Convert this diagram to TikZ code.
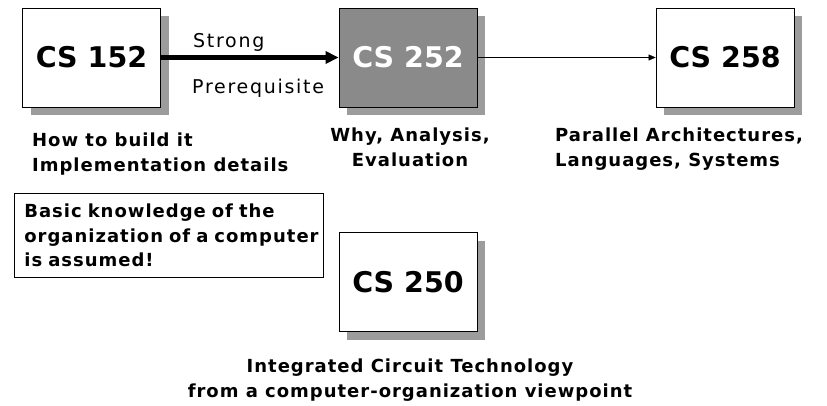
\documentclass[tikz,border=0pt]{standalone}
\usepackage{fontspec}
\setmainfont{DejaVu Sans}
\usetikzlibrary{arrows.meta,positioning,shadows}
\definecolor{boxgray}{HTML}{8A8A8A}
\definecolor{shadegray}{HTML}{9C9C9C}
\newcommand{\widetext}{\addfontfeatures{LetterSpace=5.5}}

\begin{document}
\begin{tikzpicture}[
  x=1pt, y=-1pt,
  course/.style={draw, thick, fill=white, minimum width=138pt,
                 minimum height=99pt, inner sep=0pt,
                 font=\fontsize{28.5}{34}\selectfont\bfseries,
                 drop shadow={shadow xshift=8pt, shadow yshift=-8pt,
                              fill=shadegray, opacity=1}},
  lbl/.style={font=\fontsize{18}{25}\selectfont\bfseries\widetext,
              inner sep=0pt},
  note/.style={draw, thick,
               font=\fontsize{18}{24.5}\selectfont\bfseries\widetext,
               text width=289pt, minimum height=84pt, align=left,
               inner xsep=10pt, inner ysep=3pt},
  arrlbl/.style={font=\fontsize{19}{20}\selectfont\addfontfeatures{LetterSpace=9},
                 inner sep=0pt},
  strong/.style={-{Triangle[length=13pt, width=12pt]}, line width=4.5pt},
  weak/.style={-{Triangle[length=7pt, width=6pt]}, thin}
]
\useasboundingbox (0,0) rectangle (827,406);
\node[course] (cs152) at (91.5,57.5) {CS 152};
\node[course, fill=boxgray, text=white] (cs252) at (408,57.5) {CS 252};
\node[course] (cs258) at (725,57.5) {CS 258};
\node[course] (cs250) at (408,282) {CS 250};
\draw[strong] (cs152) -- (cs252);
\draw[weak] (cs252) -- (cs258);
\node[arrlbl, anchor=base west] (strg) at (193,48) {Strong};
\node[arrlbl, anchor=base west] (prereq) at (192,94) {Prerequisite};
\node[lbl, anchor=base west, align=left] (build) at (32,172)
  {How to build it\\Implementation details};
\node[lbl, anchor=base, align=center] (why) at (410,167)
  {Why, Analysis,\\Evaluation};
\node[lbl, anchor=base west, align=left] (para) at (555,167)
  {Parallel Architectures,\\Languages, Systems};
\node[note, anchor=north west] (basic) at (14,193)
  {Basic knowledge of the\\\mbox{organization of a computer}\\is assumed!};
\node[lbl, anchor=base, align=center] (ict) at (410,397)
  {Integrated Circuit Technology\\from a computer-organization viewpoint};
\end{tikzpicture}
\end{document}
